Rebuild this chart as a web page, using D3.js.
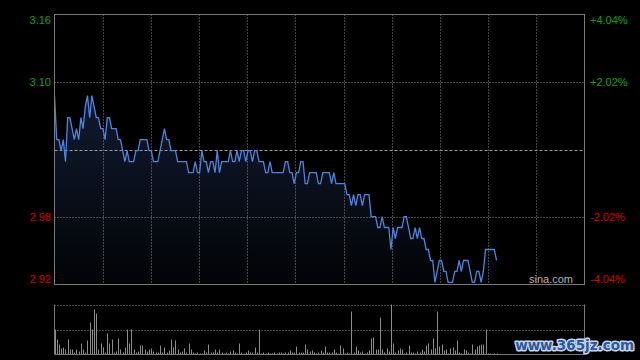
<!DOCTYPE html>
<html>
<head>
<meta charset="utf-8">
<script src="https://cdn.jsdelivr.net/npm/d3@7"></script>
<style>
  html, body { margin: 0; padding: 0; background: #000; }
  svg { display: block; }
</style>
</head>
<body>
<div id="chart"></div>
<script>
var WIDTH = 640, HEIGHT = 360;

// chart data
var prevClose = 3.041;
var pctTicks = [4.04, 2.02, 0, -2.02, -4.04];
var priceLabels = ["3.16", "3.10", "", "2.98", "2.92"];
var pctLabels = ["+4.04%", "+2.02%", "", "-2.02%", "-4.04%"];
var totalMinutes = 242;

var prices = [
  3.09,3.05,3.05,3.04,3.05,3.03,3.07,3.07,3.06,3.05,
  3.06,3.05,3.07,3.06,3.08,3.09,3.07,3.09,3.08,3.07,
  3.07,3.06,3.06,3.05,3.07,3.07,3.06,3.06,3.06,3.05,
  3.05,3.04,3.03,3.04,3.03,3.03,3.03,3.04,3.04,3.05,
  3.05,3.05,3.05,3.04,3.04,3.03,3.03,3.03,3.04,3.05,
  3.06,3.05,3.05,3.04,3.04,3.04,3.03,3.03,3.03,3.03,
  3.03,3.02,3.02,3.02,3.03,3.02,3.02,3.04,3.03,3.03,
  3.02,3.03,3.03,3.02,3.04,3.02,3.03,3.03,3.03,3.03,
  3.04,3.03,3.03,3.04,3.03,3.04,3.04,3.03,3.04,3.04,
  3.03,3.04,3.04,3.03,3.03,3.03,3.02,3.02,3.03,3.02,
  3.02,3.02,3.02,3.02,3.02,3.03,3.03,3.02,3.02,3.01,
  3.02,3.02,3.03,3.03,3.01,3.01,3.02,3.02,3.02,3.02,
  3.01,3.01,3.02,3.02,3.02,3.02,3.01,3.02,3.01,3.01,
  3.01,3.01,3.01,3.00,3.00,2.99,3.00,2.99,3.00,3.00,
  2.99,3.00,3.00,3.00,2.98,2.98,2.98,2.97,2.97,2.98,
  2.97,2.97,2.97,2.95,2.97,2.96,2.97,2.97,2.97,2.98,
  2.98,2.97,2.96,2.96,2.97,2.96,2.97,2.96,2.96,2.95,
  2.95,2.94,2.94,2.92,2.93,2.94,2.94,2.93,2.93,2.92,
  2.92,2.92,2.93,2.93,2.94,2.93,2.94,2.94,2.94,2.93,
  2.92,2.92,2.93,2.93,2.92,2.93,2.95,2.95,2.95,2.95,
  2.95,2.94
];

// volume in lots (approximate)
var volumes = [
  2500,1500,1000,600,700,500,1500,500,500,200,
  500,300,1100,500,200,1400,3200,2500,4500,4100,
  500,1100,700,200,2100,1100,1500,200,300,1600,
  500,200,700,2500,1100,2500,500,200,300,900,
  900,500,300,500,600,300,200,200,900,200,
  700,200,400,1500,700,1400,500,200,300,600,
  200,1100,500,200,100,200,100,100,400,200,
  1000,200,200,500,200,500,200,100,200,100,
  300,400,200,100,1100,200,100,200,400,200,
  200,700,200,2500,100,200,100,200,100,100,
  200,100,200,200,100,200,200,400,200,200,
  800,200,200,200,1000,500,300,400,200,100,
  200,400,200,800,200,200,200,500,200,100,
  900,600,100,200,100,4300,200,800,400,200,
  300,100,200,400,1600,1700,500,500,3700,500,
  200,600,300,5000,1100,200,400,600,500,100,
  200,900,200,200,100,300,200,500,300,900,
  1100,500,1600,600,4300,800,1000,400,500,100,
  600,700,400,1400,200,100,500,400,200,100,
  1000,500,800,900,1000,1000,2500,100,100,50,
  100,100
];

var PLOT = {left: 54.5, right: 584.5, top: 14.5, bottom: 284.5};
var VOL = {top: 304.5, bottom: 354.5};

var svg = d3.select("#chart").append("svg")
  .attr("width", WIDTH)
  .attr("height", HEIGHT)
  .style("background", "#000");

var x = d3.scaleLinear().domain([0, totalMinutes - 1]).range([PLOT.left, PLOT.right]);
var y = d3.scaleLinear()
  .domain([prevClose * (1 - 0.0404), prevClose * (1 + 0.0404)])
  .range([PLOT.bottom, PLOT.top]);
var yVol = d3.scaleLinear().domain([0, d3.max(volumes)]).range([VOL.bottom, VOL.top]);

// gradient for the area under the line
var defs = svg.append("defs");
var grad = defs.append("linearGradient")
  .attr("id", "areaFill")
  .attr("gradientUnits", "userSpaceOnUse")
  .attr("x1", 0).attr("x2", 0)
  .attr("y1", 90).attr("y2", PLOT.bottom);
grad.append("stop").attr("offset", "0%").attr("stop-color", "#111b31");
grad.append("stop").attr("offset", "100%").attr("stop-color", "#020305");

// area + line
var area = d3.area()
  .x(function(d, i) { return x(i); })
  .y0(PLOT.bottom)
  .y1(function(d) { return y(d); });

var line = d3.line()
  .x(function(d, i) { return x(i); })
  .y(function(d) { return y(d); });

svg.append("path")
  .datum(prices)
  .attr("d", area)
  .attr("fill", "url(#areaFill)");

// vertical grid
var vTicks = d3.range(1, 11).map(function(k) { return (totalMinutes - 1) * k / 11; });
svg.append("g").selectAll("line")
  .data(vTicks)
  .enter().append("line")
  .attr("x1", function(d) { return Math.round(x(d)) + 0.5; })
  .attr("x2", function(d) { return Math.round(x(d)) + 0.5; })
  .attr("y1", PLOT.top)
  .attr("y2", PLOT.bottom)
  .attr("stroke", "#8a8a8a")
  .attr("stroke-width", 1)
  .attr("stroke-dasharray", "1,2");

// horizontal grid
svg.append("g").selectAll("line")
  .data(pctTicks.slice(1, 4))
  .enter().append("line")
  .attr("x1", PLOT.left)
  .attr("x2", PLOT.right)
  .attr("y1", function(d) { return Math.round(y(prevClose * (1 + d / 100))) + 0.5; })
  .attr("y2", function(d) { return Math.round(y(prevClose * (1 + d / 100))) + 0.5; })
  .attr("stroke", function(d) { return d === 0 ? "#9a9a9a" : "#8a8a8a"; })
  .attr("stroke-width", 1)
  .attr("stroke-dasharray", function(d) { return d === 0 ? "3,2" : "1,2"; });

svg.append("path")
  .datum(prices)
  .attr("d", line)
  .attr("fill", "none")
  .attr("stroke", "#4a86e0")
  .attr("stroke-width", 1.3)
  .attr("stroke-linejoin", "miter");

// frame
svg.append("rect")
  .attr("x", PLOT.left)
  .attr("y", PLOT.top)
  .attr("width", PLOT.right - PLOT.left)
  .attr("height", PLOT.bottom - PLOT.top)
  .attr("fill", "none")
  .attr("stroke", "#7a7a7a")
  .attr("stroke-width", 1);

// axis labels
function labelY(i) {
  var yy = y(prevClose * (1 + pctTicks[i] / 100));
  if (i === 0) return yy + 9;
  if (i === pctTicks.length - 1) return yy - 2;
  return yy + 4;
}
function labelColor(i) { return pctTicks[i] > 0 ? "#10a010" : "#d40000"; }

svg.append("g").selectAll("text")
  .data(priceLabels)
  .enter().append("text")
  .attr("x", 51)
  .attr("y", function(d, i) { return labelY(i); })
  .attr("text-anchor", "end")
  .style("font-family", "'Liberation Sans', Arial, sans-serif")
  .style("font-size", "11px")
  .attr("fill", function(d, i) { return labelColor(i); })
  .text(function(d) { return d; });

svg.append("g").selectAll("text")
  .data(pctLabels)
  .enter().append("text")
  .attr("x", 590)
  .attr("y", function(d, i) { return labelY(i); })
  .attr("text-anchor", "start")
  .style("font-family", "'Liberation Sans', Arial, sans-serif")
  .style("font-size", "11px")
  .attr("fill", function(d, i) { return labelColor(i); })
  .text(function(d) { return d; });

svg.append("text")
  .attr("x", 573)
  .attr("y", 283)
  .attr("text-anchor", "end")
  .style("font-family", "'Liberation Sans', Arial, sans-serif")
  .style("font-size", "11px")
  .attr("fill", "#b0b0b0")
  .text("sina.com");

// volume panel
svg.append("g").selectAll("line")
  .data([VOL.top, (VOL.top + VOL.bottom) / 2])
  .enter().append("line")
  .attr("x1", PLOT.left)
  .attr("x2", PLOT.right)
  .attr("y1", function(d) { return Math.round(d) + 0.5; })
  .attr("y2", function(d) { return Math.round(d) + 0.5; })
  .attr("stroke", "#8a8a8a")
  .attr("stroke-dasharray", "1,2");

svg.append("g").selectAll("line")
  .data(volumes)
  .enter().append("line")
  .attr("x1", function(d, i) { return Math.round(x(i)) + 0.5; })
  .attr("x2", function(d, i) { return Math.round(x(i)) + 0.5; })
  .attr("y1", VOL.bottom)
  .attr("y2", function(d) { return yVol(d); })
  .attr("stroke", "#8c8c8c")
  .attr("stroke-width", 1);

svg.append("line")
  .attr("x1", PLOT.left).attr("x2", PLOT.left)
  .attr("y1", VOL.top).attr("y2", VOL.bottom)
  .attr("stroke", "#7a7a7a");
svg.append("line")
  .attr("x1", PLOT.right).attr("x2", PLOT.right)
  .attr("y1", VOL.top).attr("y2", VOL.bottom)
  .attr("stroke", "#7a7a7a");
svg.append("line")
  .attr("x1", PLOT.left).attr("x2", PLOT.right)
  .attr("y1", VOL.bottom).attr("y2", VOL.bottom)
  .attr("stroke", "#7a7a7a");

// watermark
svg.append("text")
  .attr("x", 634)
  .attr("y", 350)
  .attr("text-anchor", "end")
  .style("font-family", "'DejaVu Sans', Verdana, sans-serif")
  .style("font-size", "13.5px")
  .style("font-weight", "bold")
  .style("paint-order", "stroke")
  .attr("stroke", "#c8d4e8")
  .attr("stroke-width", 3)
  .attr("stroke-linejoin", "round")
  .attr("fill", "#2a58a0")
  .text("www.365jz.com");
</script>
</body>
</html>
